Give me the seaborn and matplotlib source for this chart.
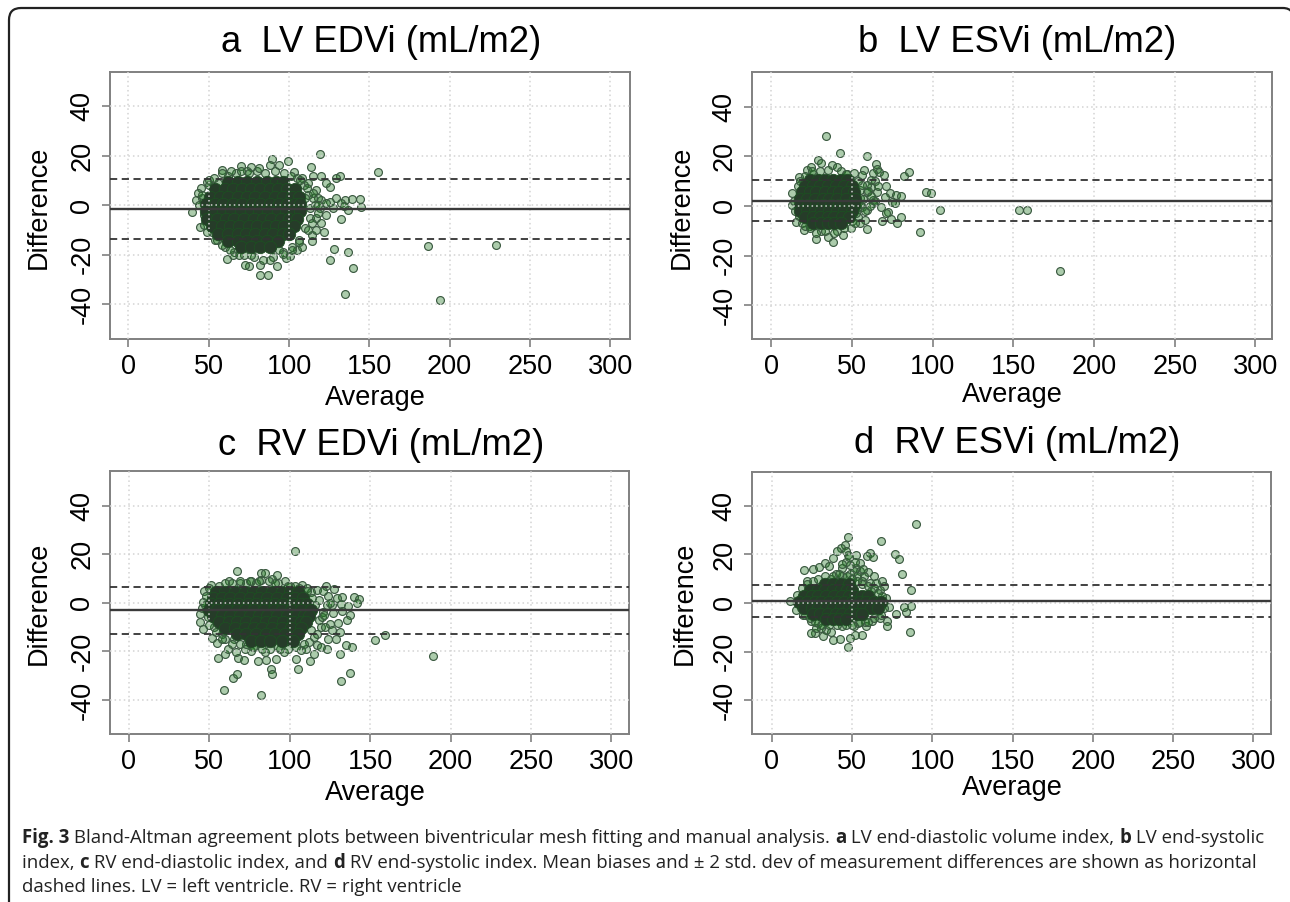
import numpy as np, pandas as pd
import matplotlib
matplotlib.use("Agg")
import matplotlib.pyplot as plt
from matplotlib.patches import PathPatch
from matplotlib.path import Path
import seaborn as sns

sns.set_style("white")
plt.rcParams['font.family'] = ['Liberation Sans', 'DejaVu Sans']
plt.rcParams['axes.unicode_minus'] = False
plt.rcParams['text.color'] = 'black'
plt.rcParams['xtick.color'] = 'black'
plt.rcParams['ytick.color'] = 'black'

W, H = 1290, 902
X_TICKS = [0, 50, 100, 150, 200, 250, 300]
Y_TICKS = [-40, -20, 0, 20, 40]

# single readable points at the edge of each cloud
a_avg = [119.1, 155.6, 186.3, 228.7, 194, 134.9, 139.8, 125.8, 127.7, 136.7, 89.1, 99.2, 58.1, 113.7, 132.6, 144.4,
         139.3, 134.9, 145, 136.4, 129.2, 131.8, 129.5, 122, 122.8, 125.3, 122.8, 120.2, 115, 116.8, 120.2, 127.4,
         132.3, 134.4, 125.8, 123, 114.2, 114.2, 116.8, 104.9, 100.8, 98.2, 92.5, 86.6, 81.9, 82.2, 74.9, 72.4, 61.2,
         39.5, 44.7, 42.1, 45.2, 48.6, 70.3, 76, 87.9, 93.5, 103, 67, 62, 56, 50, 46, 48, 52, 55, 60, 66, 72, 78, 84,
         90, 96, 102, 106, 110, 113, 112, 118, 109, 105, 108, 117, 119, 113, 110, 112, 108, 80, 85, 74, 65, 96, 88,
         44, 43, 47, 46, 50, 53, 58, 64, 70, 75, 81, 91, 97, 101, 107, 111, 115, 116, 118, 114, 112, 106, 102, 94, 76,
         69, 63, 58, 54, 49, 47, 120, 118, 115]
a_diff = [20.5, 13.6, -16.5, -16.1, -38.3, -36, -25.4, -22, -17.6, -19, 18.7, 18, 14.2, 15.4, -5.5, 2.7,
          2.7, 2.3, -0.8, -2, 3, 11.7, 11, -10.6, -3.8, 7.2, 9, 11.7, 11.7, 6, 2.3, -1,
          1, -0.4, 1.2, 1, -14.5, -12.2, -9.8, -17.9, -20.3, -21.2, -24.6, -28.3, -28.3, -24.2, -24.6, -24.2, -21.5,
          -2.8, -8.7, 2.3, 7, 9.4, 15.7, 15.3, 16.1, 16.4, 13.3, 13, 12, 9, 8, 3, -6, -11, -14, -17, -19, -20, -21, -22,
          -21, -19, -17, -14, -9, -5, 4, 3, 8, 11, 11, -5, -1, -1, 3, 9, -17, 14, 13, 14, -20, -19.5, -22,
          0, 5, -4, 4, 10, 11, 13, 14, 14, 13, 15, 14, 13, 12, 10, 7, 3, 0, -3, -7, -10, -15, -18, -18, -20,
          -20, -18, -16, -14, -11, -8, -7, 0, 5]
a_core_diff = [9.5, 6.5, 3.5, 0.5, -2.5, -5.5, -8.5, -11.5, -14.5, -17]
a_core_avg = [[62, 68, 74, 80, 86, 92, 96],
              [54, 60, 65, 71, 76, 82, 88, 93, 99, 104],
              [51, 57, 62, 68, 74, 79, 85, 91, 96, 102, 106],
              [48, 54, 59, 65, 71, 77, 82, 88, 94, 99, 104, 107],
              [48, 53, 59, 64, 70, 76, 81, 87, 93, 98, 103, 107],
              [49, 55, 61, 66, 72, 78, 84, 89, 95, 100, 105],
              [52, 58, 63, 69, 75, 80, 86, 92, 97, 103],
              [56, 62, 68, 73, 79, 85, 90, 96, 100],
              [62, 68, 74, 80, 86, 93],
              [70, 76, 82, 88]]
a_lines = [-1.4, 10.6, -13.6]

b_avg = [33.9, 42.5, 59.5, 64.6, 65.6, 66.6, 85.3, 82.5, 69.6, 62.8, 29.1, 31.1, 95.7, 99.2, 71.1, 73.4, 77.5, 80.3,
         70.6, 74.7, 76.7, 104.6, 153.2, 158.2, 179, 92.4, 80.3, 74.2, 78, 68.6, 68.1, 72.2, 70.9, 59.2, 49.1, 44.6,
         38, 34.9, 27.8, 20, 15.2, 12.9, 12.7, 16.5, 17.2, 22.3, 24.8, 37.5, 40.8, 57.7, 56.5, 51.4, 61.5, 64, 65.3,
         62.8, 59, 58.2, 54, 56.5, 59, 55.2, 61.5, 59, 63, 54, 52.7, 56.5, 54, 52.7, 55.2, 30, 26, 35, 43, 47, 24, 31, 41,
         14, 15, 17, 19, 21, 24, 28, 33, 39, 45, 50, 53, 55, 57, 60, 62, 58, 55, 52, 49, 46, 18, 21, 25, 61, 64, 66]
b_diff = [28.1, 21.5, 20, 16.8, 14.9, 13.9, 13.8, 12.2, 12.4, 13.2, 18.5, 17.2, 5.8, 5.4, 8.1, 5.1, 4.5, 4.1,
          3.8, 1.5, 1.1, -1.8, -1.8, -1.5, -26.1, -10.3, -4.5, -5.4, -6.8, -6.2, -0.5, -2.3, -3, -9.2, -8.8, -11.5,
          -14.7, -12.4, -13.5, -9.6, -6.4, 5.1, 0.4, 8.1, 11.6, 14.6, 15.9, 16.4, 15.7, 14.6, 12.6, 13.2, 7.8, 9.9, 5.8,
          2.4, -1.6, -5.7, -4.3, -0.3, 5.8, 6.5, 10.5, 8.5, 1.1, 1.1, -3, 8.5, 9.9, 3.8, 3.1, 14, 13, 14.5, 14, 13, -8, -10, -10,
          2, -2, -4, -7, -8, -9, -11, -10, -11, -9, -6, -1, 1, 3, 6, 4, -2, -7, -7, 11, 13, 10, 12, 14, 0, 2, 8]
b_core_diff = [10.5, 8, 5.5, 3, 0.5, -2, -4.5, -7]
b_core_avg = [[24, 29, 33, 38, 43, 47],
              [21, 26, 30, 35, 40, 45, 50],
              [19, 24, 28, 33, 38, 42, 47, 51],
              [18, 22, 27, 32, 36, 41, 46, 52],
              [18, 23, 28, 32, 37, 42, 46, 51],
              [18, 22, 27, 31, 36, 41, 45, 50],
              [21, 26, 30, 35, 39, 44, 48],
              [26, 31, 35, 39, 43]]
b_lines = [2, 10.5, -6.2]

c_avg = [103.1, 67.4, 82.2, 84.5, 92, 89.1, 97.2, 127.4, 122.7, 107.8, 62.3, 51.2, 46.5, 139.8, 142.9, 141.6, 132.6,
         129.2, 123.5, 131.8, 136.4, 126.1, 132.8, 137.7, 135.4, 130, 124.8, 126, 131.3, 123.5, 128.7, 153, 159.2, 189.1,
         135.1, 139, 123, 131.3, 115, 112.7, 137.2, 132, 104.9, 104.1, 91.7, 88.4, 89.1, 85.3, 80.4, 81.9, 59.2, 64.6,
         67.2, 55.3, 59.7, 68, 71.8, 61.5, 66.7, 76.2, 84.8, 96.4, 106.7, 117, 119.6, 46, 44.4, 43.9, 51.7, 55, 45.2, 46,
         57.6, 65.4, 113.2, 118.3, 120.9, 117, 119.6, 117, 113.2, 120.4, 110.6, 82.2, 75.7, 69.3, 73, 79, 93, 100, 110,
         72, 78, 60, 94, 120,
         48, 50, 47, 49, 53, 56, 60, 64, 69, 75, 81, 87, 91, 99, 103, 106, 111, 114, 116, 118, 121, 123, 115, 112, 109,
         104, 99, 93, 88, 83, 77, 73, 69, 64, 58, 54, 50, 125, 127, 122]
c_diff = [21.2, 13.1, 12.3, 12.3, 11.6, 9.8, 8.8, 5.9, 6.9, 7.2, 8.8, 7.2, 4.7, 2.5, 1.5, -0.1, 2.5,
          1.8, 2.9, -0.3, -1.1, -1, -3.3, -4.8, -7.2, -8.1, -8.6, -11, -12, -14.8, -15, -15.2, -13.1, -21.7,
          -17.5, -18.3, -19, -21.2, -21, -23.9, -29, -32.3, -27.2, -23.3, -23.3, -27.2, -29.2, -23.7, -24.1, -37.8, -35.9, -30.8,
          -29.2, -22.9, -21, -22.6, -23.7, -18.9, -20.3, -20, -20.3, -20.3, -19.6, -17.5, -18.2, -10.9, -7.9, -4.4, -14.3, -16.4, -2.3, 0.4,
          -12.7, -14.8, -11.3, -7.2, -3.7, -12.7, -9.9, 5.2, 4.6, 5, 6.2, 9.4, 8.8, 8.3, 8, 8, 8, 7, -19,
          -19, -18, -15, -19, -6,
          3, 6, -1, -6, -10, 7, 8, 8, 9, 9, 9, 9, 8, 7, 7, 6, 5, 2, -1, 1, -5, -1, -14, -16, -17,
          -18, -19, -18, -19, -19, -18, -17, -17, -17, -15, -12, -9, 0, -4, -10]
c_core_diff = [4.5, 2, -0.5, -3, -5.5, -8, -10.5, -13, -15.5]
c_core_avg = [[54, 60, 66, 72, 77, 83, 89, 95, 100, 105],
              [52, 58, 63, 69, 75, 81, 86, 92, 98, 103, 108],
              [51, 56, 62, 68, 74, 79, 85, 91, 96, 102, 107, 111],
              [50, 55, 61, 67, 72, 78, 84, 90, 95, 101, 107, 113],
              [52, 58, 63, 69, 75, 81, 86, 92, 98, 104, 109, 112],
              [56, 62, 67, 73, 79, 85, 90, 96, 102, 107, 110],
              [60, 66, 72, 78, 83, 89, 95, 101, 107],
              [67, 73, 79, 85, 91, 97, 105],
              [76, 82, 88, 95, 102]]
c_lines = [-3, 6.6, -13]

d_avg = [90.1, 47.3, 67.9, 45.5, 43, 41, 46.6, 47.6, 76.6, 79.1, 61.3, 59.5, 63.4, 52.4, 38.4, 33.3, 55, 81.2, 20.1, 25.7,
         29.3, 35.9, 43.5, 52.4, 55, 60, 63.9, 69, 86.8, 65.1, 70, 21.9, 48.6, 51.1, 57.5, 61.3, 67.7, 71, 72.8, 72, 72.1,
         77.4, 83.5, 82.7, 86.8, 86.3, 67.7, 62.6, 58.8, 56.2, 51.9, 48.6, 47.8, 42.5, 38.2, 37.2, 33.8, 32.1, 27, 24.4,
         24.4, 19.3, 15, 11.2, 15.5, 18.6, 43.5, 51.1, 53.7, 58.3, 28.8, 30.8, 27.5, 46, 49, 53, 44, 40, 37, 50, 56, 60, 64,
         22, 26, 29, 33, 38, 42, 47, 50, 53, 56, 62, 66, 69, 70, 68, 64, 60, 55, 50, 46, 41, 36, 31, 27, 24, 21, 18, 52, 48, 44, 57]
d_diff = [32.7, 27.2, 25.4, 24.1, 22.7, 21.3, 21.3, 19.9, 20.4, 18.3, 20.6, 19.5, 18.8, 19.7, 18.6, 16.5, 16.5, 12.1, 13.6, 14.2,
          14.7, 15.1, 14.4, 14.4, 13.1, 12.7, 11, 8.9, 5.4, 8.3, 6.9, 9.2, 15.5, 13.1, 11, 8.3, 5.5, 2.1, -1.7, -7.6, -9.6,
          -4.5, -3.9, -1.7, -1.4, -11.8, -6.2, -7.6, -9.6, -13.1, -13.1, -14.4, -18.2, -14.7, -15.1, -12.1, -11.3, -13.8, -12.4, -12.4,
          -7.6, -4.8, -2.8, 1, 3.4, 6.2, -9.6, -9.6, -8.3, -7.8, -8.3, -10.3, -10.3, 17, 12, 11, 11, 12, 10, 10, 9, 7, 6,
          8, 9, 10, 11, 11, 12, 11, 10, 9, 8, 5, 4, 3, -2, -5, -6, -8, -8, -9, -9, -9, -9, -9, -8, -6, -5, -2, 17, 19, 16, 14]
d_core_diff = [8, 5.5, 3, 0.5, -2, -4.5, -6.5]
d_core_avg = [[33, 38, 43, 48],
              [24, 29, 33, 38, 43, 47, 50],
              [20, 25, 29, 34, 39, 44, 48, 52, 56, 60],
              [17, 22, 27, 31, 36, 41, 45, 50, 55, 59, 64, 68],
              [20, 25, 29, 34, 38, 43, 48, 52, 57, 62, 66],
              [26, 30, 35, 40, 44, 49, 53, 56],
              [34, 38, 42, 46]]
d_lines = [1, 7.3, -5.6]

TITLES = ["a  LV EDVi (mL/m2)", "b  LV ESVi (mL/m2)", "c  RV EDVi (mL/m2)", "d  RV ESVi (mL/m2)"]
PANELS = [(a_avg, a_diff, a_core_avg, a_core_diff, a_lines),
          (b_avg, b_diff, b_core_avg, b_core_diff, b_lines),
          (c_avg, c_diff, c_core_avg, c_core_diff, c_lines),
          (d_avg, d_diff, d_core_avg, d_core_diff, d_lines)]

# left, right, top, bottom of each box and where its texts sit, in pixels
BOXES = [(110, 629.5, 72, 339), (752.4, 1271.6, 72, 339), (110, 629, 471, 734), (752.4, 1271, 472, 734)]
XLIMS = [(-11.5, 312), (-11.7, 310), (-11.8, 311), (-12, 311)]
YLIMS = [(-54, 53.8), (-53.6, 54), (-54, 54.3), (-54, 54)]
TITLE_POS = [(381, 42), (1017, 42), (381, 445), (1017, 444)]
XLAB_POS = [(375, 398), (1012, 395), (375, 793), (1012, 788)]
YLAB_POS = [(39, 207), (682, 207), (39, 603), (685, 603)]


def fx(x): return x / W
def fy(y): return 1 - y / H


fig = plt.figure(figsize=(W / 100, H / 100), dpi=100, facecolor="white")
border = [(9, 930), (9, 20), (9, 8), (21, 8), (1283, 8), (1289, 8), (1292, 12)]
codes = [Path.MOVETO, Path.LINETO, Path.CURVE3, Path.CURVE3, Path.LINETO, Path.CURVE3, Path.CURVE3]
fig.add_artist(PathPatch(Path([(fx(x), fy(y)) for x, y in border], codes), transform=fig.transFigure,
                         fc="none", ec="#222222", lw=1.6))

for i, (avg, diff, core_avg, core_diff, lines) in enumerate(PANELS):
    l, r, t, b = BOXES[i]
    ax = fig.add_axes([fx(l), fy(b), (r - l) / W, (b - t) / H])
    edge = pd.DataFrame({"avg": avg, "diff": diff})
    core = pd.DataFrame({"avg": [v for row in core_avg for v in row],
                         "diff": [d for row, d in zip(core_avg, core_diff) for _ in row]})
    sns.scatterplot(data=edge, x="avg", y="diff", ax=ax, s=32, linewidth=0.85, zorder=1,
                    facecolor=(0.1, 0.45, 0.1, 0.36), edgecolor="#3b5a41")
    sns.scatterplot(data=core, x="avg", y="diff", ax=ax, s=80, linewidth=0.6, zorder=1.2,
                    color="#263c29", edgecolor="#1d4f22")
    ax.set_xlim(*XLIMS[i]); ax.set_ylim(*YLIMS[i])
    ax.set_xticks(X_TICKS); ax.set_yticks(Y_TICKS)
    ax.set_axisbelow(False)
    ax.grid(True, color="#d3d3d3", ls=(0, (1, 2)), lw=1.1)
    ax.axhline(lines[0], color="#3a3a3a", lw=1.7, zorder=3)
    ax.axhline(lines[1], color="#333333", lw=1.3, ls=(0, (4, 2.5)), zorder=3)
    ax.axhline(lines[2], color="#333333", lw=1.3, ls=(0, (4, 2.5)), zorder=3)
    for s in ax.spines.values():
        s.set_color("#808080"); s.set_linewidth(1.4)
    ax.tick_params(axis="both", length=5.5, width=1.2, color="#808080", labelsize=19.5, pad=5, bottom=True, left=True)
    plt.setp(ax.get_yticklabels(), rotation=90, va="center")
    ax.set_xlabel(""); ax.set_ylabel("")
    fig.text(fx(TITLE_POS[i][0]), fy(TITLE_POS[i][1]), TITLES[i], fontsize=26.2, ha="center", va="center")
    fig.text(fx(XLAB_POS[i][0]), fy(XLAB_POS[i][1]), "Average", fontsize=19.5, ha="center", va="center")
    fig.text(fx(YLAB_POS[i][0]), fy(YLAB_POS[i][1]), "Difference", fontsize=19.5, ha="center", va="center", rotation=90)

# caption, bold and regular runs set one after the other
CAPTION = [
    (838, [("Fig. 3", True), (" Bland-Altman agreement plots between biventricular mesh fitting and manual analysis. ", False),
           ("a", True), (" LV end-diastolic volume index, ", False), ("b", True), (" LV end-systolic", False)]),
    (863, [("index, ", False), ("c", True), (" RV end-diastolic index, and ", False), ("d", True),
           (" RV end-systolic index. Mean biases and \u00b1 2 std. dev of measurement differences are shown as horizontal", False)]),
    (887, [("dashed lines. LV = left ventricle. RV = right ventricle", False)]),
]
rend = fig.canvas.get_renderer()
for y, runs in CAPTION:
    x = 22
    for txt, bold in runs:
        t = fig.text(fx(x), fy(y), txt.replace(" ", "\u00a0"), fontsize=13.4, family="Open Sans", color="#222222",
                     weight="bold" if bold else "normal", va="center", ha="left")
        x += t.get_window_extent(rend).width

fig.savefig("out.png", dpi=100)
plt.close()
